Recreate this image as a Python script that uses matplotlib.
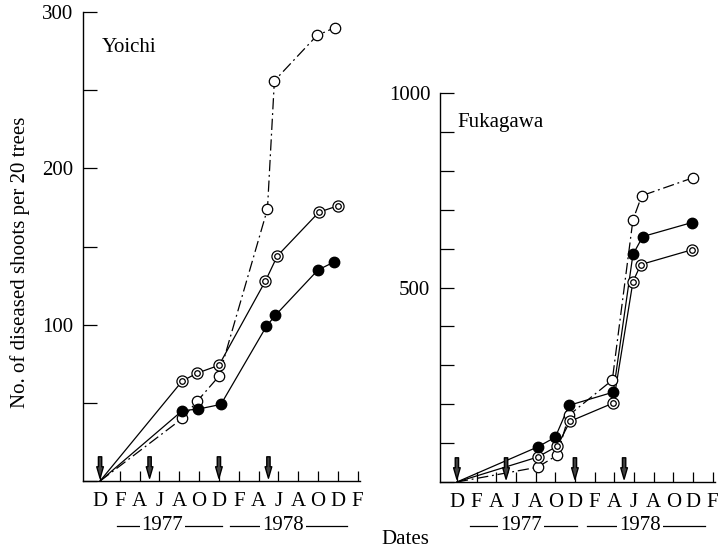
import numpy as np
import matplotlib
matplotlib.use("Agg")
import matplotlib.pyplot as plt
from matplotlib.ticker import MultipleLocator
import matplotlib.transforms as mtransforms

plt.rcParams['font.family'] = ['Liberation Serif', 'DejaVu Serif']
plt.rcParams['font.size'] = 15

# months counted from December 1976 (= 0)
month_ticks = list(range(0, 28, 2))
month_labels = ["D", "F", "A", "J", "A", "O", "D", "F", "A", "J", "A", "O", "D", "F"]
spray_months = [0, 5, 12, 17]

# Yoichi
yo_x_double = [0, 8.3, 9.8, 12.0, 16.7, 17.9, 22.1, 24.0]
yo_double = [0, 64, 69, 74, 128, 144, 172, 176]
yo_x_filled = [0, 8.3, 9.9, 12.2, 16.8, 17.7, 22.0, 23.6]
yo_filled = [0, 45, 46, 49, 99, 106, 135, 140]
yo_x_open = [0, 8.3, 9.8, 12.0, 16.9, 17.6, 21.9, 23.7]
yo_open = [0, 40, 51, 67, 174, 256, 285, 290]

# Fukagawa
fu_x_double = [0, 8.2, 10.2, 11.5, 15.9, 17.9, 18.7, 23.9]
fu_double = [0, 64, 92, 156, 203, 515, 559, 597]
fu_x_filled = [0, 8.2, 10.0, 11.4, 15.9, 17.9, 18.9, 23.9]
fu_filled = [0, 90, 115, 197, 231, 585, 631, 667]
fu_x_open = [0, 8.2, 10.2, 11.4, 15.8, 17.9, 18.8, 24.0]
fu_open = [0, 38, 69, 172, 262, 674, 736, 782]

dashdot = (0, (9, 3, 1.5, 3))


def draw_series(ax, xd, yd, xf, yf, xo, yo):
    ax.plot(xo, yo, color='black', lw=0.9, linestyle=dashdot, zorder=2)
    ax.plot(xo[1:], yo[1:], 'o', ms=7.5, mfc='white', mec='black', mew=0.9, zorder=4)
    ax.plot(xd, yd, color='black', lw=0.9, zorder=2)
    ax.plot(xd[1:], yd[1:], 'o', ms=8, mfc='white', mec='black', mew=0.9, zorder=4)
    ax.plot(xd[1:], yd[1:], 'o', ms=4, mfc='white', mec='black', mew=0.9, zorder=5)
    ax.plot(xf, yf, color='black', lw=0.9, zorder=2)
    ax.plot(xf[1:], yf[1:], 'o', ms=7.5, mfc='black', mec='black', zorder=4)


def style_axes(ax, ymax, major, minor):
    ax.set_xlim(-1.72, 26.25)
    ax.set_ylim(0, ymax)
    for s in ['top', 'right']:
        ax.spines[s].set_visible(False)
    for s in ['left', 'bottom']:
        ax.spines[s].set_linewidth(1.0)
    ax.set_xticks(month_ticks)
    ax.set_xticklabels(month_labels)
    ax.yaxis.set_major_locator(MultipleLocator(major))
    ax.yaxis.set_minor_locator(MultipleLocator(minor))
    ax.yaxis.set_major_formatter(
        matplotlib.ticker.FuncFormatter(lambda v, p: "" if v == 0 else "%d" % v))
    ax.tick_params(axis='x', direction='in', length=7, width=0.9, pad=8)
    ax.tick_params(axis='y', which='both', direction='in', length=10, width=0.9, pad=7)
    # spray arrows
    for m in spray_months:
        ax.annotate("", xy=(m, 0), xycoords='data',
                    xytext=(0, 27), textcoords='offset pixels',
                    arrowprops=dict(arrowstyle='simple,head_length=0.55,head_width=0.32,tail_width=0.16',
                                    fc='0.25', ec='black', lw=1.0),
                    annotation_clip=False, zorder=3)


def year_bar(ax, x0, x1, xt, label):
    trans = mtransforms.blended_transform_factory(ax.transData, ax.transAxes)
    y = -0.095 if ax.get_ylim()[1] < 500 else -0.112
    ax.plot([x0, x1], [y, y], color='black', lw=0.9, transform=trans, clip_on=False)
    ax.text(xt, y, label, transform=trans, ha='center', va='center',
            bbox=dict(facecolor='white', edgecolor='none', pad=1.5))


fig = plt.figure(figsize=(7.22, 5.52), dpi=100)
ax1 = fig.add_axes([0.115, 0.1286, 0.3837, 0.8496])
ax2 = fig.add_axes([0.6094, 0.1268, 0.381, 0.7047])

draw_series(ax1, yo_x_double, yo_double, yo_x_filled, yo_filled, yo_x_open, yo_open)
style_axes(ax1, 300, 100, 50)
draw_series(ax2, fu_x_double, fu_double, fu_x_filled, fu_filled, fu_x_open, fu_open)
style_axes(ax2, 1000, 500, 100)

year_bar(ax1, 1.7, 12.3, 6.3, "1977")
year_bar(ax1, 13.1, 24.9, 18.5, "1978")
year_bar(ax2, 1.3, 12.2, 6.5, "1977")
year_bar(ax2, 13.2, 25.2, 18.6, "1978")

ax1.text(0.068, 0.925, "Yoichi", transform=ax1.transAxes, ha='left', va='center')
ax2.text(0.065, 0.925, "Fukagawa", transform=ax2.transAxes, ha='left', va='center')

fig.text(0.028, 0.525, "No. of diseased shoots per 20 trees", rotation=90,
         ha='center', va='center')
fig.text(0.561, 0.022, "Dates", ha='center', va='center')

fig.savefig("out.png", dpi=100)
